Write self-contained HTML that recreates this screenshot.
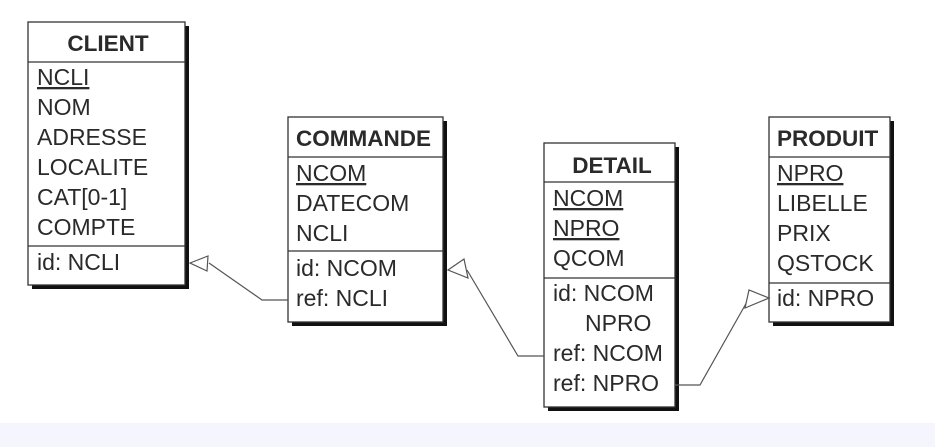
<!DOCTYPE html>
<html><head><meta charset="utf-8"><style>
html,body{margin:0;padding:0;background:#fff;width:935px;height:447px;overflow:hidden}
svg text{font-family:"Liberation Sans",Arial,sans-serif;font-size:23px;fill:#2a2a2a}
.h{font-weight:bold;font-size:22.5px}
.u{text-decoration:underline}
</style></head><body>
<svg width="935" height="447" xmlns="http://www.w3.org/2000/svg">
<rect x="0" y="423" width="935" height="24" fill="#f4f5fd"/>
<g stroke="#333" stroke-width="1.3" fill="#fff">
<rect x="32" y="26" width="157" height="263" fill="#111" stroke="none"/>
<rect x="292" y="121" width="155" height="205" fill="#111" stroke="none"/>
<rect x="548" y="147" width="131" height="264" fill="#111" stroke="none"/>
<rect x="773" y="121" width="121" height="205" fill="#111" stroke="none"/>
<rect x="28" y="22" width="157" height="263"/>
<line x1="28" y1="62" x2="185" y2="62"/>
<line x1="28" y1="246" x2="185" y2="246"/>
<rect x="288" y="117" width="155" height="205"/>
<line x1="288" y1="157" x2="443" y2="157"/>
<line x1="288" y1="251" x2="443" y2="251"/>
<rect x="544" y="143" width="131" height="264"/>
<line x1="544" y1="182" x2="675" y2="182"/>
<line x1="544" y1="278" x2="675" y2="278"/>
<rect x="769" y="117" width="121" height="205"/>
<line x1="769" y1="157" x2="890" y2="157"/>
<line x1="769" y1="283" x2="890" y2="283"/>
</g>
<g stroke="#555" stroke-width="1.2" fill="none">
<polyline points="209,263 262,300 288,300"/>
<polygon points="190,263 208,256 207,271" fill="#fff"/>
<polyline points="467,270 518,356 544,356"/>
<polygon points="448,270 464,259 468,278" fill="#fff"/>
<polyline points="675,385 700,385 748,300"/>
<polygon points="769,298 749,290 745,308" fill="#fff"/>
</g>
<text class="h" x="108" y="51" text-anchor="middle">CLIENT</text>
<text class="u" x="37" y="85">NCLI</text>
<text x="37" y="115">NOM</text>
<text x="37" y="145">ADRESSE</text>
<text x="37" y="175">LOCALITE</text>
<text x="37" y="205">CAT[0-1]</text>
<text x="37" y="235">COMPTE</text>
<text x="37" y="270">id: NCLI</text>
<text class="h" x="296" y="146">COMMANDE</text>
<text class="u" x="296" y="181">NCOM</text>
<text x="296" y="211">DATECOM</text>
<text x="296" y="241">NCLI</text>
<text x="296" y="276">id: NCOM</text>
<text x="296" y="306">ref: NCLI</text>
<text class="h" x="612" y="173" text-anchor="middle">DETAIL</text>
<text class="u" x="553" y="206">NCOM</text>
<text class="u" x="553" y="236">NPRO</text>
<text x="553" y="266">QCOM</text>
<text x="553" y="301">id: NCOM</text>
<text x="585" y="331">NPRO</text>
<text x="553" y="361">ref: NCOM</text>
<text x="553" y="391">ref: NPRO</text>
<text class="h" x="777" y="146">PRODUIT</text>
<text class="u" x="777" y="181">NPRO</text>
<text x="777" y="211">LIBELLE</text>
<text x="777" y="241">PRIX</text>
<text x="777" y="271">QSTOCK</text>
<text x="777" y="306">id: NPRO</text>
</svg>
</body></html>
